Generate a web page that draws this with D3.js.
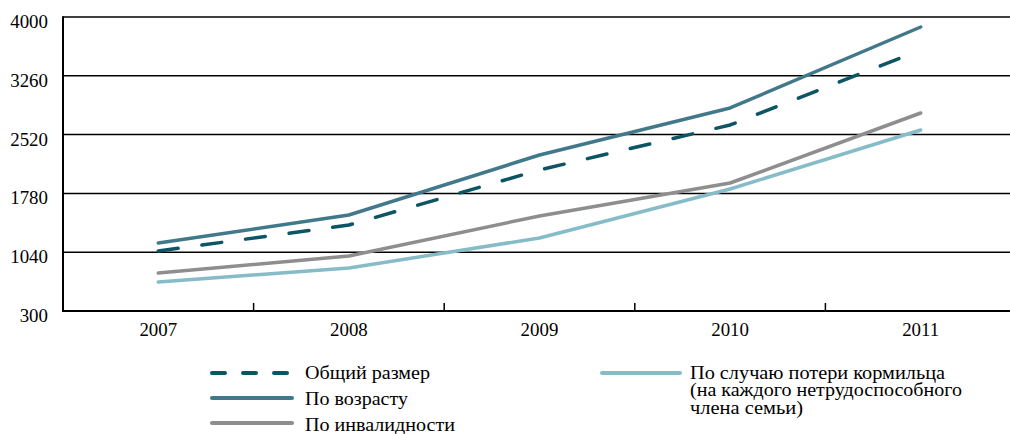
<!DOCTYPE html>
<html><head><meta charset="utf-8">
<script src="https://cdn.jsdelivr.net/npm/d3@7"></script>
<style>
html,body{margin:0;padding:0;background:#fff;}
text{font-family:"Liberation Serif","Times New Roman",serif;fill:#000;}
</style></head>
<body><svg id="c" width="1010" height="434"></svg>
<script>
const years = ["2007","2008","2009","2010","2011"];
const yTicks = [300,1040,1780,2520,3260,4000];
const seriesNames = ["Общий размер","По возрасту","По инвалидности","По случаю потери кормильца (на каждого нетрудоспособного члена семьи)"];
const totalVals = [1055,1382,2075,2641,3585];
const ageVals = [1156,1508,2263,2855,3874];
const disabilityVals = [778,992,1496,1911,2792];
const survivorVals = [665,841,1219,1835,2578];

const svg = d3.select("#c");
const L = 63, R = 1016, T = 17, B = 311;
const x = d3.scaleBand().domain(years).range([L, R]).padding(0);
const y = d3.scaleLinear().domain([300,4000]).range([B, T]);

// gridlines
svg.append("g").selectAll("line").data(yTicks.slice(1)).join("line")
  .attr("x1", L).attr("x2", 1010).attr("y1", d=>y(d)).attr("y2", d=>y(d))
  .attr("stroke","#000").attr("stroke-width",1.5);
// y labels
svg.append("g").selectAll("text").data(yTicks).join("text")
  .attr("transform", d=>`translate(48,${y(d)+11}) scale(1.05,1)`).attr("text-anchor","end")
  .style("font-size","18px").text(d=>d);
// left axis
svg.append("line").attr("x1",L).attr("x2",L).attr("y1",T-0.75).attr("y2",B+1)
  .attr("stroke","#000").attr("stroke-width",2);
// bottom axis
svg.append("line").attr("x1",L).attr("x2",1010).attr("y1",B).attr("y2",B)
  .attr("stroke","#000").attr("stroke-width",2);
// ticks between categories
svg.append("g").selectAll("line").data(years.slice(1,5)).join("line")
  .attr("x1", d=>x(d)).attr("x2", d=>x(d)).attr("y1", B).attr("y2", B-8)
  .attr("stroke","#000").attr("stroke-width",1.5);
// x labels
svg.append("g").selectAll("text").data(years).join("text")
  .attr("transform", d=>`translate(${x(d)+x.bandwidth()/2},336) scale(1.05,1)`).attr("text-anchor","middle")
  .style("font-size","18px").text(d=>d);

const series = [
  {name:seriesNames[0], vals:totalVals, color:"#0c5564", dash:"20,24"},
  {name:seriesNames[1], vals:ageVals, color:"#42798a", dash:null},
  {name:seriesNames[2], vals:disabilityVals, color:"#8e8e8e", dash:null},
  {name:seriesNames[3], vals:survivorVals, color:"#86bcc8", dash:null}
];
const line = d3.line().x((d,i)=>x(years[i])+x.bandwidth()/2).y(d=>y(d));
[3,2,1,0].forEach(k=>{
  const s = series[k];
  svg.append("path").attr("d", line(s.vals)).attr("fill","none")
    .attr("stroke", s.color).attr("stroke-width",3.5)
    .attr("stroke-linecap","round").attr("stroke-linejoin","round")
    .attr("stroke-dasharray", s.dash);
});

// legend
const leg = [
  {s:series[0], x1:212, x2:292, ly:373, tx:305, lines:["Общий размер"], w:[125], ty:379},
  {s:series[1], x1:212, x2:292, ly:398, tx:305, lines:["По возрасту"], w:[103], ty:405},
  {s:series[2], x1:212, x2:292, ly:423, tx:305, lines:["По инвалидности"], w:[150], ty:431},
  {s:series[3], x1:602, x2:680, ly:373, tx:690, lines:["По случаю потери кормильца","(на каждого нетрудоспособного","члена семьи)"], w:[255,272,113], ty:379}
];
leg.forEach(g=>{
  svg.append("line").attr("x1",g.x1).attr("x2",g.x2).attr("y1",g.ly).attr("y2",g.ly)
    .attr("stroke",g.s.color).attr("stroke-width",4).attr("stroke-linecap","round")
    .attr("stroke-dasharray", g.s.dash ? "13,18" : null);
  g.lines.forEach((ln,i)=>{
    svg.append("text").attr("x",g.tx).attr("y",g.ty+i*17.3).style("font-size","19px")
      .attr("textLength", g.w[i]).attr("lengthAdjust","spacingAndGlyphs").text(ln);
  });
});
</script></body></html>
